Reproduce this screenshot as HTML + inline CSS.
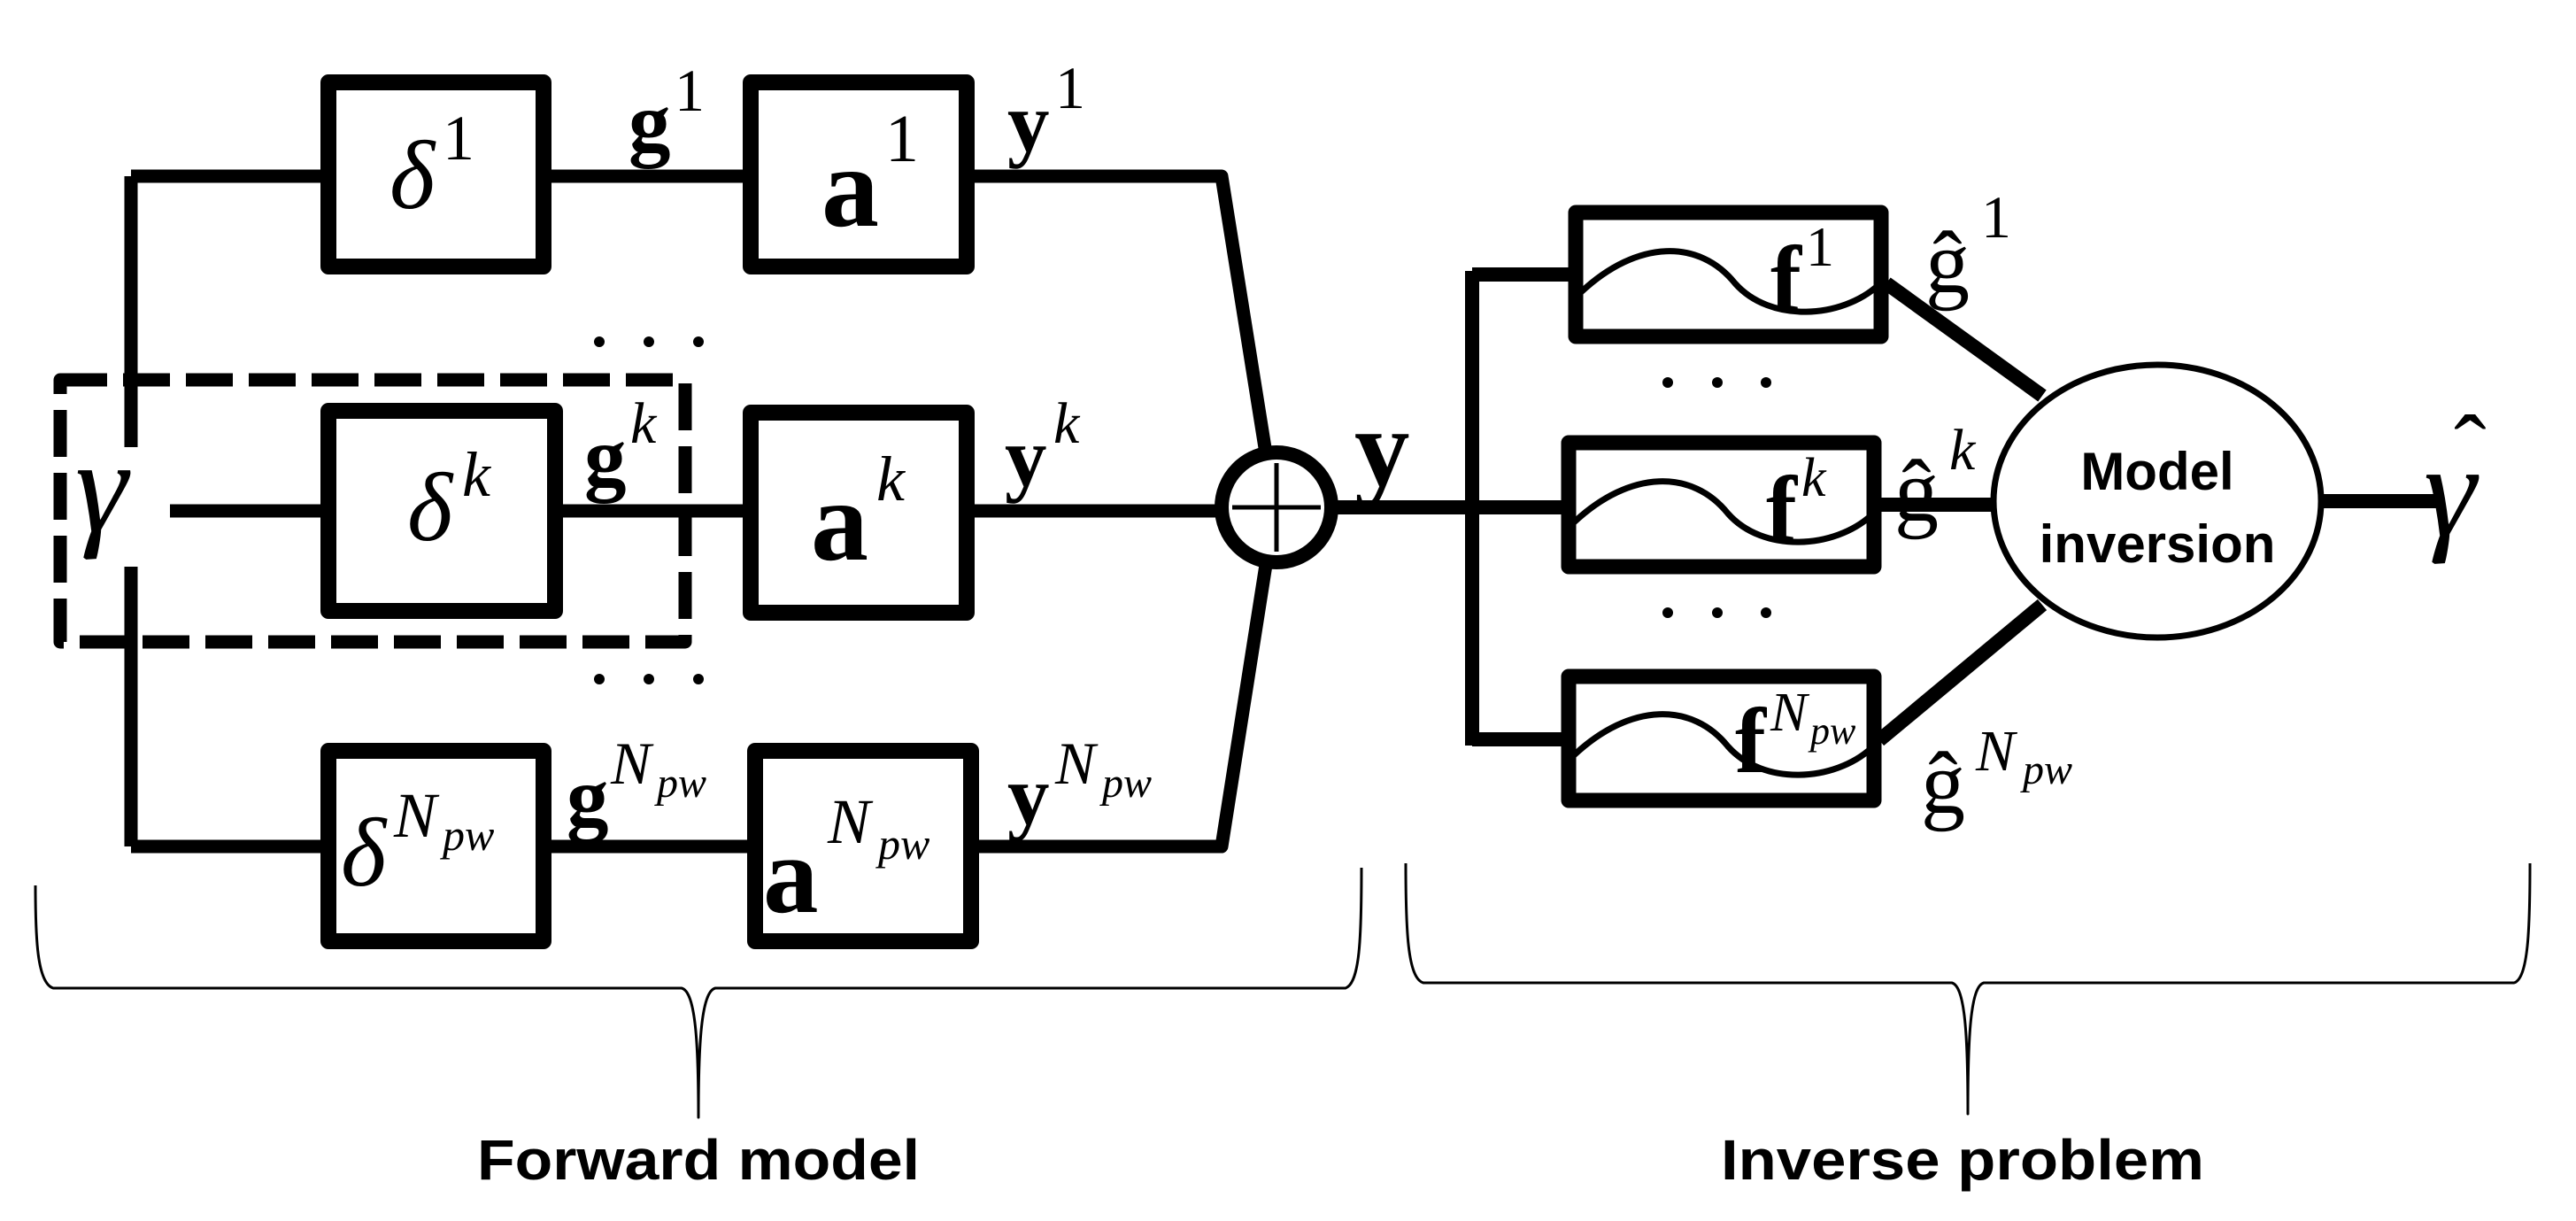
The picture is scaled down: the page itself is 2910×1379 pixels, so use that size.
<!DOCTYPE html>
<html><head><meta charset="utf-8"><style>
html,body{margin:0;padding:0;background:#fff;}
svg{display:block}
.m{font-family:"Liberation Serif",serif;font-style:italic}
.b{font-family:"Liberation Serif",serif;font-weight:bold}
.s{font-family:"Liberation Serif",serif;font-style:italic}
.n{font-family:"Liberation Serif",serif}
.t{font-family:"Liberation Sans",sans-serif;font-weight:bold}
</style></head><body>
<svg width="2910" height="1379" viewBox="0 0 2910 1379" xmlns="http://www.w3.org/2000/svg">
<g fill="none" stroke="#000" stroke-linejoin="round">
<path d="M148 199 V505 M148 640 V956" stroke-width="15"/>
<path d="M148 199 H362 M148 956 H362 M192 577 H362" stroke-width="15"/>
<rect x="371" y="93" width="243" height="208" stroke-width="18"/>
<rect x="848" y="93" width="244" height="208" stroke-width="18"/>
<rect x="371" y="464" width="256" height="226" stroke-width="18"/>
<rect x="848" y="466" width="244" height="226" stroke-width="18"/>
<rect x="371" y="848" width="243" height="215" stroke-width="18"/>
<rect x="853" y="848" width="244" height="215" stroke-width="18"/>
<path d="M622 199 H839 M636 577 H839 M622 956 H844" stroke-width="15"/>
<path d="M1101 199 H1380 L1430 512 M1101 577 H1378 M1106 956 H1380 L1430 638" stroke-width="15"/>
<rect x="68" y="429" width="706" height="296" stroke-width="15" stroke-dasharray="53 18"/>
<circle cx="1442" cy="573" r="62" stroke-width="16" fill="#fff"/>
<path d="M1392 573 H1492 M1442 523 V623" stroke-width="5"/>
<path d="M1504 573 H1772" stroke-width="16"/>
<path d="M1663 306 V842" stroke-width="16"/>
<path d="M1663 310 H1772 M1663 835 H1772" stroke-width="16"/>
<rect x="1780" y="240" width="345" height="140" stroke-width="17"/>
<rect x="1772" y="500" width="345" height="140" stroke-width="17"/>
<rect x="1772" y="764" width="345" height="140" stroke-width="17"/>
<g stroke-width="7">
<path d="M1786 330 C1850 270,1920 270,1960 320 C2000 365,2080 360,2122 322"/>
<path d="M1778 590 C1842 530,1912 530,1952 580 C1992 625,2072 620,2114 582"/>
<path d="M1778 853 C1842 793,1912 793,1952 843 C1992 888,2072 883,2114 845"/>
</g>
<path d="M2131 320 L2307 447 M2123 836 L2307 683 M2124 570 H2255" stroke-width="16"/>
<ellipse cx="2437" cy="566" rx="185" ry="154" stroke-width="7" fill="#fff"/>
<path d="M2622 566 H2755" stroke-width="16"/>
<path d="M40 1000 C40 1060,42 1110,60 1116 H770 C786 1120,789 1180,789 1262 C789 1180,792 1120,808 1116 H1520 C1536 1110,1538 1060,1538 980" stroke-width="3"/>
<path d="M1588 975 C1588 1050,1590 1105,1608 1110 H2205 C2220 1114,2223 1170,2223 1258 C2223 1170,2226 1114,2241 1110 H2840 C2856 1105,2858 1050,2858 975" stroke-width="3"/>
</g>
<g fill="#000">
<circle cx="677" cy="386" r="6"/><circle cx="733" cy="386" r="6"/><circle cx="789" cy="386" r="6"/>
<circle cx="677" cy="767" r="6"/><circle cx="733" cy="767" r="6"/><circle cx="789" cy="767" r="6"/>
<circle cx="1884" cy="432" r="6"/><circle cx="1940" cy="432" r="6"/><circle cx="1995" cy="432" r="6"/>
<circle cx="1884" cy="692" r="6"/><circle cx="1940" cy="692" r="6"/><circle cx="1995" cy="692" r="6"/>
<text x="85" y="600" class="m" font-size="150">γ</text>
<text x="440" y="235" class="m" font-size="110">δ</text><text x="500" y="180" class="n" font-size="72">1</text>
<text x="460" y="610" class="m" font-size="110">δ</text><text x="522" y="560" class="s" font-size="72">k</text>
<text x="385" y="1000" class="m" font-size="110">δ</text><text x="445" y="945" class="s" font-size="72">N</text><text x="500" y="960" class="s" font-size="50">pw</text>
<text x="710" y="170" class="b" font-size="95">g</text><text x="762" y="125" class="n" font-size="68">1</text>
<text x="660" y="548" class="b" font-size="95">g</text><text x="712" y="500" class="s" font-size="66">k</text>
<text x="640" y="932" class="b" font-size="95">g</text><text x="690" y="885" class="s" font-size="68">N</text><text x="742" y="900" class="s" font-size="48">pw</text>
<text x="928" y="255" class="b" font-size="130">a</text><text x="1000" y="182" class="n" font-size="76">1</text>
<text x="916" y="632" class="b" font-size="130">a</text><text x="990" y="565" class="s" font-size="72">k</text>
<text x="862" y="1030" class="b" font-size="125">a</text><text x="935" y="952" class="s" font-size="72">N</text><text x="992" y="970" class="s" font-size="50">pw</text>
<text x="1138" y="170" class="b" font-size="95">y</text><text x="1192" y="122" class="n" font-size="68">1</text>
<text x="1135" y="548" class="b" font-size="95">y</text><text x="1190" y="500" class="s" font-size="66">k</text>
<text x="1138" y="930" class="b" font-size="95">y</text><text x="1192" y="885" class="s" font-size="68">N</text><text x="1245" y="900" class="s" font-size="48">pw</text>
<text x="1530" y="548" class="b" font-size="125">y</text>
<text x="2000" y="350" class="b" font-size="105">f</text><text x="2040" y="300" class="n" font-size="64">1</text>
<text x="1995" y="610" class="b" font-size="105">f</text><text x="2035" y="560" class="s" font-size="62">k</text>
<text x="1960" y="872" class="b" font-size="105">f</text><text x="2000" y="825" class="s" font-size="62">N</text><text x="2045" y="840" class="s" font-size="44">pw</text>
<text x="2175" y="330" class="n" font-size="100">ĝ</text><text x="2238" y="268" class="n" font-size="68">1</text>
<text x="2140" y="588" class="n" font-size="100">ĝ</text><text x="2202" y="530" class="s" font-size="66">k</text>
<text x="2170" y="918" class="n" font-size="100">ĝ</text><text x="2232" y="870" class="s" font-size="66">N</text><text x="2285" y="885" class="s" font-size="48">pw</text>
<text x="2437" y="553" class="t" font-size="60" text-anchor="middle">Model</text>
<text x="2437" y="635" class="t" font-size="60" text-anchor="middle">inversion</text>
<text x="2738" y="605" class="m" font-size="150">γ</text>
<text x="2772" y="545" class="n" font-size="110">ˆ</text>
<text x="789" y="1332" class="t" font-size="64" text-anchor="middle" textLength="500" lengthAdjust="spacingAndGlyphs">Forward model</text>
<text x="2217" y="1332" class="t" font-size="64" text-anchor="middle" textLength="546" lengthAdjust="spacingAndGlyphs">Inverse problem</text>
</g>
</svg>
</body></html>
